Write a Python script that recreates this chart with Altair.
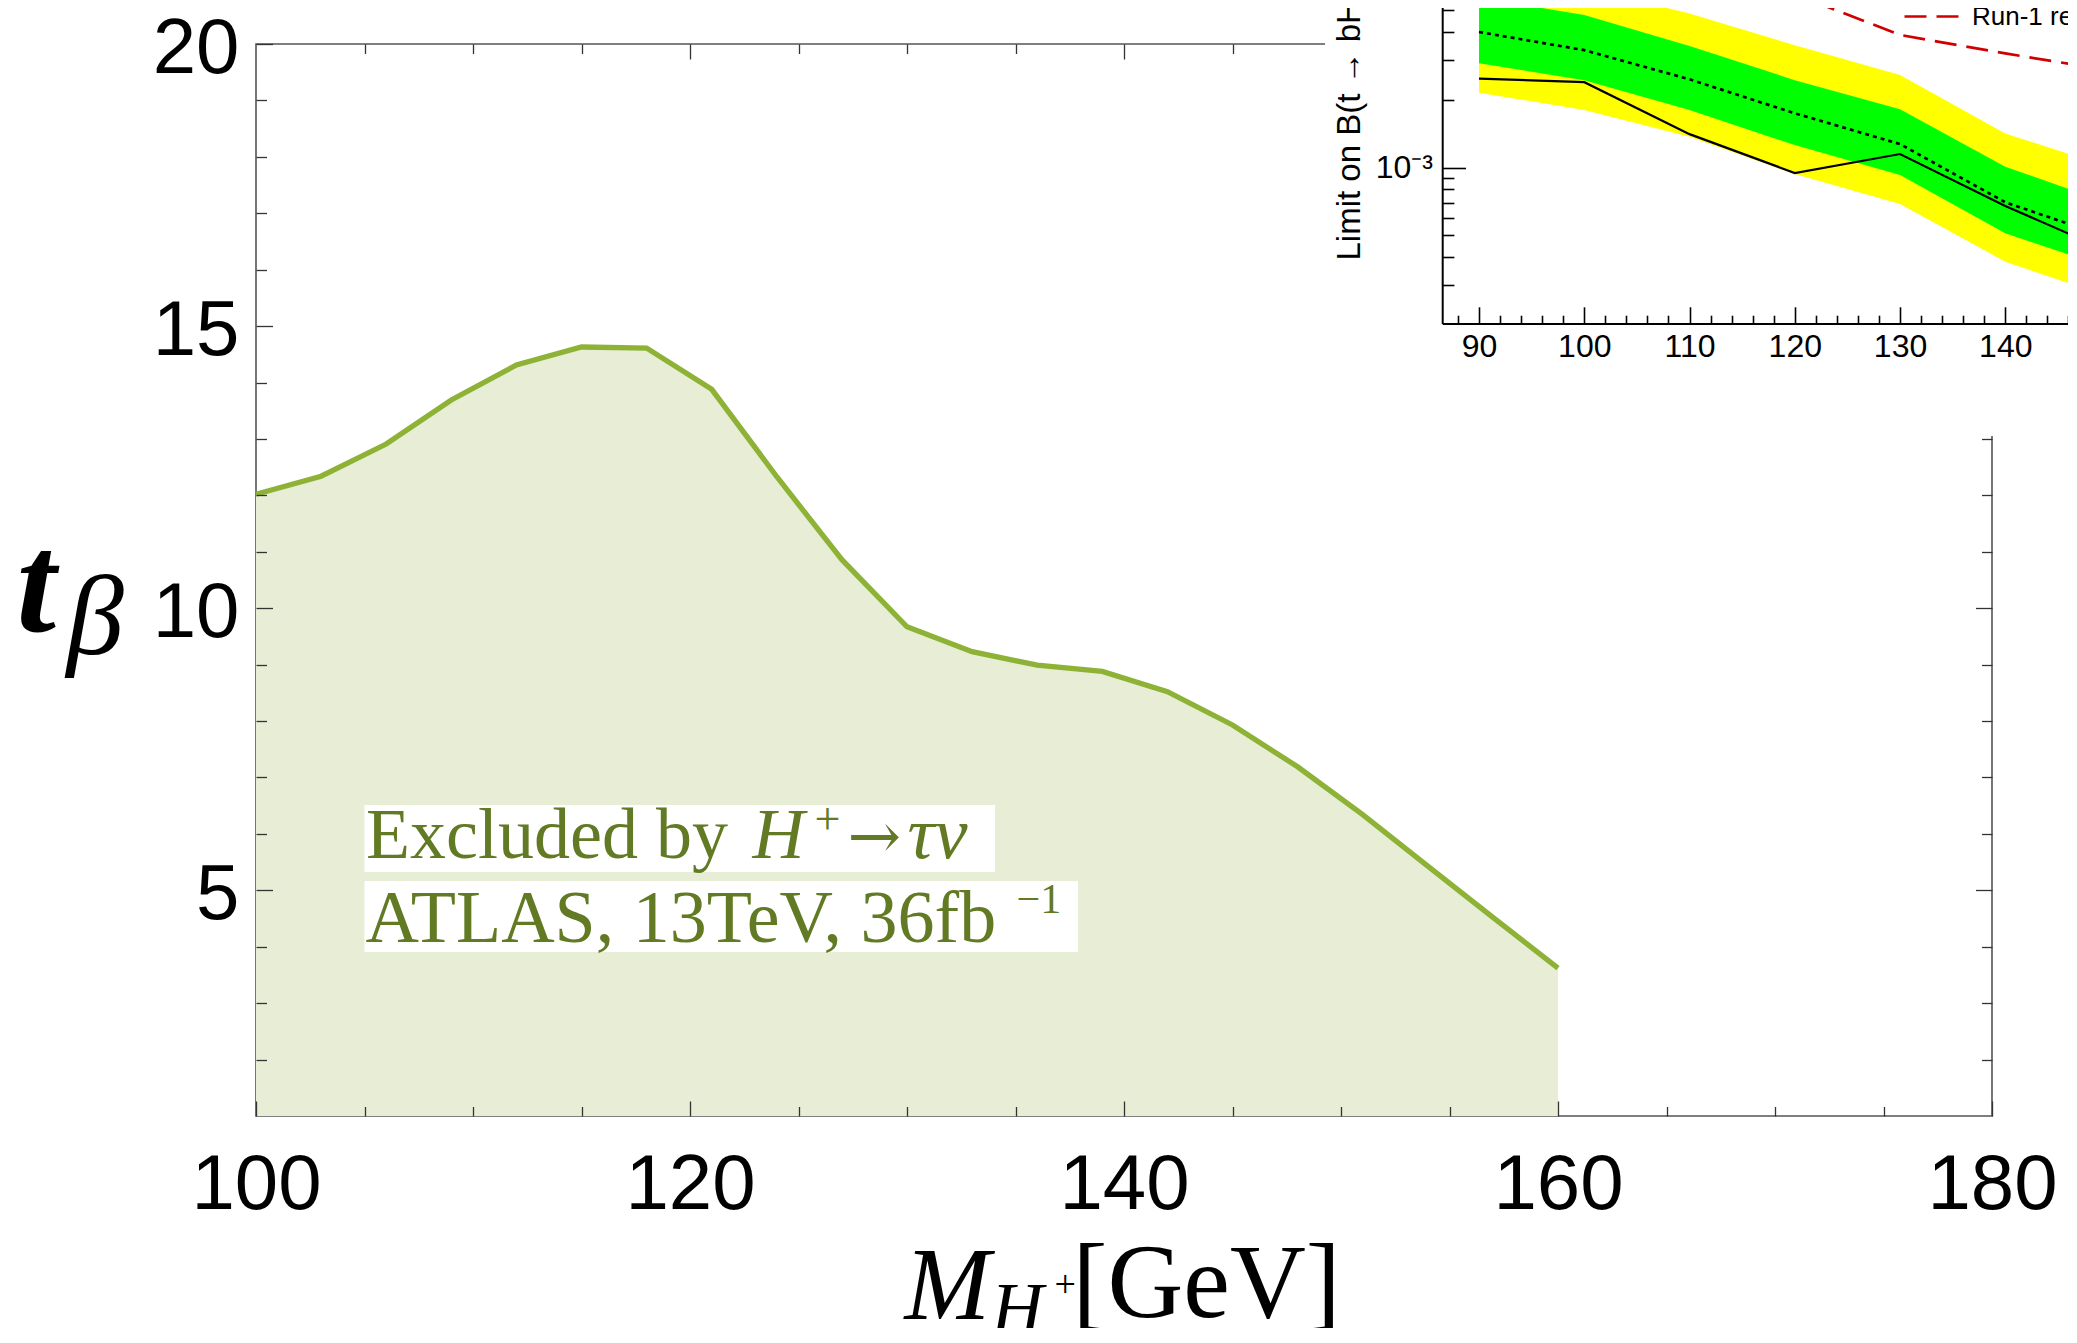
import altair as alt
import pandas as pd

# ---------------- main exclusion curve ----------------
MASS = [100, 103, 106, 109, 112, 115, 118, 121, 124, 127, 130,
        133, 136, 139, 142, 145, 148, 151, 154, 157, 160]
TANB = [12.02, 12.34, 12.91, 13.69, 14.31, 14.63, 14.61, 13.88, 12.33, 10.86, 9.67,
        9.23, 8.99, 8.88, 8.52, 7.93, 7.19, 6.34, 5.43, 4.52, 3.62]

X_DOMAIN = [100, 180]
Y_DOMAIN = [1, 20]
X_LABELS = [100, 120, 140, 160, 180]
Y_LABELS = [5, 10, 15, 20]
X_MAJOR = [100, 120, 140, 160, 180]
X_MINOR = [105, 110, 115, 125, 130, 135, 145, 150, 155, 165, 170, 175]
Y_MAJOR = [5, 10, 15, 20]
Y_MINOR = [2, 3, 4, 6, 7, 8, 9, 11, 12, 13, 14, 16, 17, 18, 19]
X_TOP_MAJOR = [120, 140]
X_TOP_MINOR = [105, 110, 115, 125, 130, 135, 145]
Y_RIGHT_MAJOR = [5, 10]
Y_RIGHT_MINOR = [2, 3, 4, 6, 7, 8, 9, 11, 12, 13]

# annotation
NOTE_X = [105, 105]
NOTE_Y = [5.573, 4.084]
LINE1 = ["Excluded by", "H", "+", "\u2192", "\u03c4\u03bd"]
LINE2 = ["ATLAS, 13TeV, 36fb", "\u22121"]
BOX_X1 = [105, 105]
BOX_X2 = [134.06, 137.88]
BOX_Y1 = [5.324, 3.906]
BOX_Y2 = [6.512, 5.165]

# ---------------- inset (limit plot) ----------------
INSET_MASS = [90, 100, 110, 120, 130, 140, 150]
OBSERVED = [2.49e-3, 2.40e-3, 1.41e-3, 0.947e-3, 1.15e-3, 0.676e-3, 0.422e-3]
EXPECTED = [4.01e-3, 3.33e-3, 2.47e-3, 1.745e-3, 1.274e-3, 0.702e-3, 0.486e-3]
PLUS1 = [5.7e-3, 4.77e-3, 3.47e-3, 2.45e-3, 1.817e-3, 1.01e-3, 0.693e-3]
MINUS1 = [2.91e-3, 2.45e-3, 1.805e-3, 1.26e-3, 0.928e-3, 0.511e-3, 0.356e-3]
PLUS2 = [7.4e-3, 6.3e-3, 4.85e-3, 3.5e-3, 2.58e-3, 1.42e-3, 1.0e-3]
MINUS2 = [2.155e-3, 1.805e-3, 1.373e-3, 0.938e-3, 0.69e-3, 0.382e-3, 0.265e-3]
RUN1_MASS = [110, 120, 130, 140, 150]
RUN1 = [7.5e-3, 5.9e-3, 3.89e-3, 3.22e-3, 2.70e-3]
RUN1_LABEL = ["Run-1 result"]

INSET_X_DOMAIN = [86.5, 160]
INSET_Y_DOMAIN = [2.03e-4, 1e-2]
INSET_X_LABELS = [90, 100, 110, 120, 130, 140, 150]
INSET_X_MINOR = [88, 92, 94, 96, 98, 102, 104, 106, 108, 112, 114, 116, 118,
                 122, 124, 126, 128, 132, 134, 136, 138, 142, 144, 146, 148]
INSET_Y_MAJOR = [1e-3, 1e-2]
INSET_Y_MINOR = [3e-4, 4e-4, 5e-4, 6e-4, 7e-4, 8e-4, 9e-4,
                 2e-3, 3e-3, 4e-3, 5e-3, 6e-3, 7e-3, 8e-3, 9e-3]
INSET_TICK_LABEL = "10\u207b\u00b3"
INSET_TITLE = "Limit on B(t \u2192 bH\u207a)"
# white paper of the inset, in inset coordinates
PANEL_X1, PANEL_X2 = [75.37], [175]
PANEL_Y1, PANEL_Y2 = [6.42e-5], [0.05]

# ---------------- style / layout ----------------
SANS = "Liberation Sans"
SERIF = "Liberation Serif"
ARROWFONT = "DejaVu Serif"
W, H = 1736, 1072
FILL = "#e8eed6"
LINE = "#8db236"
TEXT = "#617a23"
TICK = "#333333"
RED = "#d10000"
INSET_X_RANGE = [1186.2, 1959.8]
INSET_Y_RANGE = [279.5, -101.3]
IX0 = 1186.2     # inset y-axis position (px in plot)
IY0 = 279.5      # inset x-axis position (px in plot)


def title_kw(text, font, size, style, weight, x, y, angle=0):
    return dict(title=text, titleFont=font, titleFontSize=size, titleFontStyle=style,
                titleFontWeight=weight, titleColor="black", titleAngle=angle,
                titleAlign="left", titleBaseline="alphabetic", titleX=x, titleY=y)


def tick_axis(orient, offset, values, size, color=TICK, width=1.3, **kw):
    if "title" not in kw:
        kw["title"] = None
    return alt.Axis(orient=orient, offset=offset, values=values, ticks=True, tickSize=size,
                    tickColor=color, tickWidth=width, labels=False, domain=False, grid=False,
                    zindex=1, **kw)


main = pd.DataFrame({"mass": MASS, "tanb": TANB})
xs = alt.Scale(domain=X_DOMAIN, nice=False, zero=False)
ys = alt.Scale(domain=Y_DOMAIN, nice=False, zero=False)

area = alt.Chart(main).mark_area(color=FILL, opacity=1).encode(
    x=alt.X("mass:Q", scale=xs, axis=alt.Axis(
        orient="bottom", values=X_LABELS, ticks=False, tickSize=0, domain=False, grid=False,
        labelFont=SANS, labelFontSize=78, labelColor="black", labelPadding=30,
        labelFlush=False, labelOverlap=False,
        **title_kw("M", SERIF, 103, "italic", "normal", 648, 202))),
    y=alt.Y("tanb:Q", scale=ys, axis=alt.Axis(
        orient="left", values=Y_LABELS, ticks=False, tickSize=0, domain=False, grid=False,
        labelFont=SANS, labelFontSize=78, labelColor="black", labelPadding=17,
        labelOffset=5, labelOverlap=False,
        **title_kw("t", SERIF, 142, "italic", "bold", -240, 586))),
    y2=alt.Y2Datum(Y_DOMAIN[0]),
)

line = alt.Chart(main).mark_line(color=LINE, strokeWidth=5.3).encode(
    x=alt.X("mass:Q", scale=xs, axis=tick_axis(
        "top", -H, X_MAJOR, 15,
        **title_kw("H", SERIF, 72, "italic", "normal", 735, 215))),
    y=alt.Y("tanb:Q", scale=ys, axis=tick_axis(
        "right", -W, Y_MAJOR, 16.5,
        **title_kw("\u03b2", SERIF, 115, "italic", "normal", -190, 609))),
)

boxes = alt.Chart(pd.DataFrame({"x1": BOX_X1, "x2": BOX_X2, "y1": BOX_Y1, "y2": BOX_Y2})).mark_rect(
    color="white").encode(
    x=alt.X("x1:Q", scale=xs, axis=tick_axis(
        "top", -H, X_MINOR, 9.5,
        **title_kw("+", SERIF, 38, "normal", "normal", 798, 180))),
    x2="x2:Q",
    y=alt.Y("y1:Q", scale=ys, axis=tick_axis("right", -W, Y_MINOR, 10.5)),
    y2="y2:Q",
)

# text segments: (line index, text, font, style, size, dx, dy)
SEGMENTS = [
    (0, LINE1[0], SERIF, "normal", 72, 1.5, 0),
    (0, LINE1[1], SERIF, "italic", 72, 388, 0),
    (0, LINE1[2], SERIF, "normal", 46, 450, -24),
    (0, LINE1[3], ARROWFONT, "normal", 64, 483, 0),
    (0, LINE1[4], SERIF, "italic", 75, 543, 0),
    (1, LINE2[0], SERIF, "normal", 74, 1, 0),
    (1, LINE2[1], SERIF, "normal", 42, 652, -29),
]

text_layers = []
for i, (li, txt, font, style, size, dx, dy) in enumerate(SEGMENTS):
    if i == 0:
        xa = tick_axis("bottom", -H, X_TOP_MAJOR, 15,
                       **title_kw("[GeV]", SERIF, 105, "normal", "normal", 816, 1272))
        ya = tick_axis("left", -W, Y_RIGHT_MAJOR, 16.5)
    elif i == 1:
        xa = tick_axis("bottom", -H, X_TOP_MINOR, 9.5)
        ya = tick_axis("left", -W, Y_RIGHT_MINOR, 10.5)
    else:
        xa = None
        ya = None
    df = pd.DataFrame({"x": [NOTE_X[li]], "y": [NOTE_Y[li]], "txt": [txt]})
    t = alt.Chart(df).mark_text(
        align="left", baseline="alphabetic", font=font, fontSize=size,
        fontStyle=style, color=TEXT, dx=dx, dy=dy,
    ).encode(
        x=alt.X("x:Q", scale=xs, axis=xa),
        y=alt.Y("y:Q", scale=ys, axis=ya),
        text="txt:N",
    )
    text_layers.append(t)

# ---------------- inset ----------------
inset = pd.DataFrame({"m": INSET_MASS, "obs": OBSERVED, "exp": EXPECTED,
                      "p1": PLUS1, "m1": MINUS1, "p2": PLUS2, "m2": MINUS2})
ixs = alt.Scale(domain=INSET_X_DOMAIN, range=INSET_X_RANGE, nice=False, zero=False)
iys = alt.Scale(type="log", domain=INSET_Y_DOMAIN, range=INSET_Y_RANGE, nice=False)

panel = alt.Chart(pd.DataFrame({"x1": PANEL_X1, "x2": PANEL_X2, "y1": PANEL_Y1, "y2": PANEL_Y2})).mark_rect(
    color="white").encode(
    x=alt.X("x1:Q", scale=ixs, axis=None), x2="x2:Q",
    y=alt.Y("y1:Q", scale=iys, axis=None), y2="y2:Q",
)

yellow = alt.Chart(inset).mark_area(color="#ffff00", opacity=1).encode(
    x=alt.X("m:Q", scale=ixs, axis=alt.Axis(
        orient="bottom", offset=IY0 - H, values=INSET_X_LABELS, ticks=False, tickSize=0,
        domain=True, domainColor="black", domainWidth=2, grid=False,
        labelFont=SANS, labelFontSize=32, labelColor="black", labelPadding=7.7,
        labelFlush=False, labelOverlap=False, title=None, zindex=1)),
    y=alt.Y("m2:Q", scale=iys, axis=alt.Axis(
        orient="left", offset=-IX0, values=[INSET_Y_MAJOR[0]],
        labelExpr="'" + INSET_TICK_LABEL + "'", ticks=False, tickSize=0,
        domain=True, domainColor="black", domainWidth=2, grid=False,
        labelFont=SANS, labelFontSize=32, labelColor="black", labelPadding=9.7,
        labelOverlap=False, zindex=1,
        **title_kw(INSET_TITLE, SANS, 33, "normal", "normal", -83, 216, angle=270))),
    y2="p2:Q",
)

green = alt.Chart(inset).mark_area(color="#00ff00", opacity=1).encode(
    x=alt.X("m:Q", scale=ixs, axis=tick_axis("top", -IY0, INSET_X_LABELS, 16.7,
                                             color="black", width=1.6)),
    y=alt.Y("m1:Q", scale=iys, axis=tick_axis("right", IX0 - W, INSET_Y_MAJOR, 23.3,
                                              color="black", width=1.6)),
    y2="p1:Q",
)

expected = alt.Chart(inset).mark_line(color="black", strokeWidth=2.7, strokeDash=[4, 4]).encode(
    x=alt.X("m:Q", scale=ixs, axis=tick_axis("top", -IY0, INSET_X_MINOR, 8.3,
                                             color="black", width=1.6)),
    y=alt.Y("exp:Q", scale=iys, axis=tick_axis("right", IX0 - W, INSET_Y_MINOR, 11.7,
                                               color="black", width=1.6)),
)

observed = alt.Chart(inset).mark_line(color="black", strokeWidth=2.2).encode(
    x=alt.X("m:Q", scale=ixs, axis=None),
    y=alt.Y("obs:Q", scale=iys, axis=None),
)

run1_df = pd.DataFrame({"m": RUN1_MASS, "lim": RUN1, "series": RUN1_LABEL * len(RUN1_MASS)})
run1 = alt.Chart(run1_df).mark_line(strokeWidth=2.7, strokeDash=[22, 10]).encode(
    x=alt.X("m:Q", scale=ixs, axis=None),
    y=alt.Y("lim:Q", scale=iys, axis=None),
    color=alt.Color("series:N", scale=alt.Scale(domain=RUN1_LABEL, range=[RED]),
                    legend=alt.Legend(orient="none", legendX=1647, legendY=-56, title=None,
                                      symbolType="stroke", symbolSize=2916,
                                      symbolStrokeWidth=2.7, symbolDash=[22, 10],
                                      labelFont=SANS, labelFontSize=26, labelColor="black",
                                      labelOffset=12, padding=0)),
)

chart = alt.layer(
    area, line, boxes, *text_layers,
    panel, yellow, green, expected, observed, run1,
).resolve_scale(
    x="independent", y="independent"
).resolve_axis(
    x="independent", y="independent"
).properties(
    width=W, height=H,
    autosize=alt.AutoSizeParams(type="none"),
    padding={"left": 248, "top": 36, "right": 76, "bottom": 212},
).configure_view(
    stroke="#555555", strokeWidth=1.6
)

chart.save("out.html", embed_options={"renderer": "svg", "actions": False})
